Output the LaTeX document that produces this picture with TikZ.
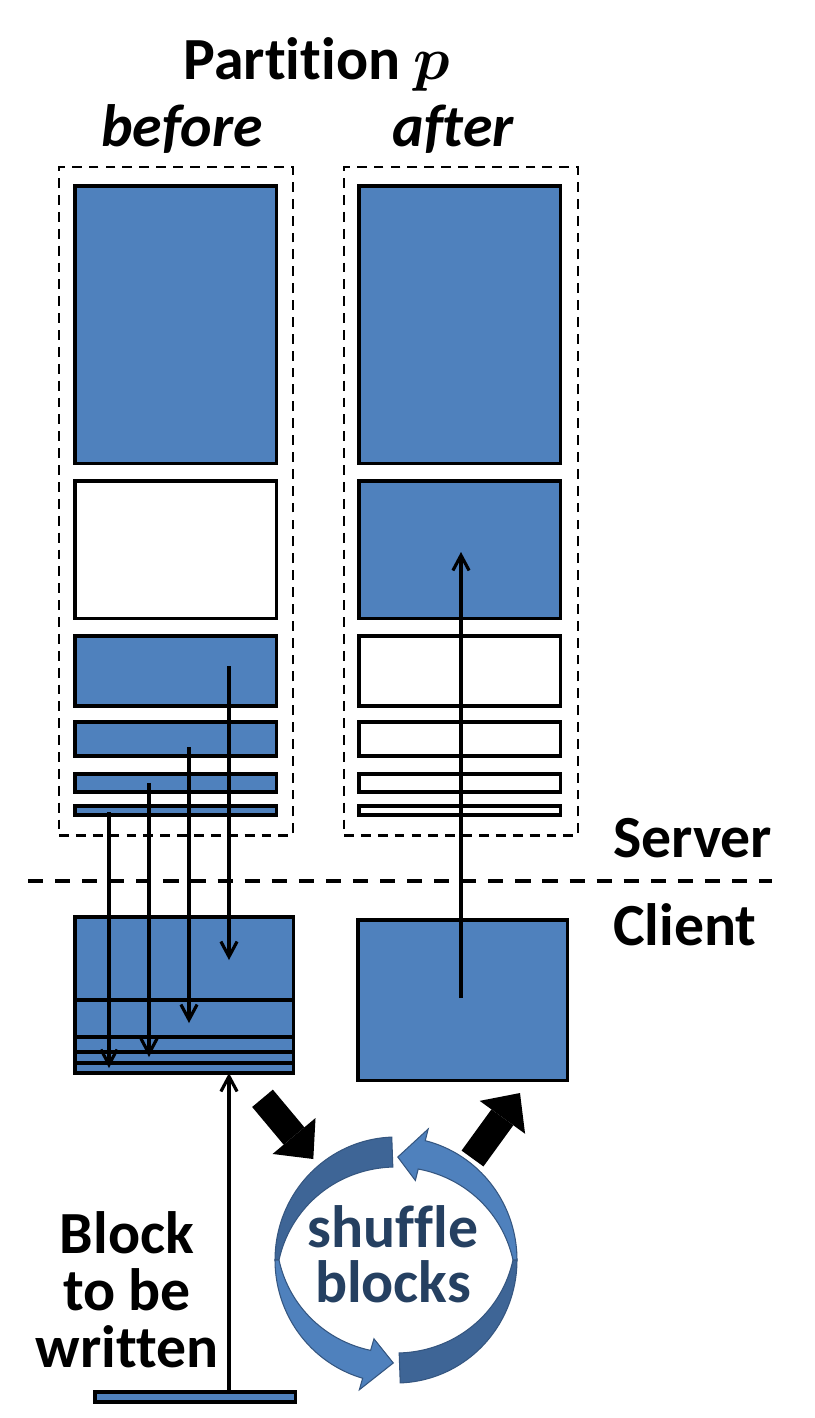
\documentclass[tikz,border=0pt]{standalone}
\usepackage{fontspec}
\setmainfont{Carlito}[Ligatures=NoCommon]
\usepackage{amsmath, amssymb}
\usetikzlibrary{arrows.meta}

\definecolor{blkblue}{RGB}{79,129,189}
\definecolor{ringdark}{RGB}{62,101,150}
\definecolor{ringlight}{RGB}{79,129,189}
\definecolor{ringtext}{RGB}{37,64,97}

\begin{document}
\begin{tikzpicture}[x=0.01cm, y=-0.01cm, >={Straight Barb[length=4.3pt,width=4.6pt]},
  every node/.style={font=\fontsize{17}{16.2}\selectfont\bfseries, inner sep=0pt, outer sep=0pt},
  full/.style={draw, line width=0.9pt, fill=blkblue, anchor=north west, minimum width=2.01cm},
  empty/.style={draw, line width=0.9pt, fill=white, anchor=north west, minimum width=2.01cm},
  part/.style={draw, dash pattern=on 2.8pt off 2pt, line width=0.7pt, anchor=north west, minimum width=2.34cm, minimum height=6.68cm},
  link/.style={->, line width=0.9pt},
  bigarrow/.style={line width=0.27cm, -{Triangle[length=0.3cm,width=0.56cm,line width=0pt]}},
  ringpart/.style={draw=ringdark!85!black, line width=0.3pt}]
  \useasboundingbox (0,0) rectangle (814,1418);

  % titles
  \node[anchor=base] (title) at (317,80) {Partition $\boldsymbol{p}$};
  \node[anchor=base, font=\fontsize{17}{16.2}\selectfont\bfseries\itshape] (before) at (182,146) {before};
  \node[anchor=base, font=\fontsize{17}{16.2}\selectfont\bfseries\itshape] (after) at (453,146) {after};

  % partition before
  \node[part] (pb) at (59,167) {};
  \node[full, minimum height=2.77cm] (b1) at (75,186) {};
  \node[empty, minimum height=1.37cm] (b2) at (75,481) {};
  \node[full, minimum height=0.70cm] (b3) at (75,636) {};
  \node[full, minimum height=0.34cm] (b4) at (75,722) {};
  \node[full, minimum height=0.18cm] (b5) at (75,774) {};
  \node[full, minimum height=0.09cm] (b6) at (75,806) {};

  % partition after
  \node[part] (pa) at (344,167) {};
  \node[full, minimum height=2.77cm] (a1) at (359,186) {};
  \node[full, minimum height=1.37cm] (a2) at (359,481) {};
  \node[empty, minimum height=0.70cm] (a3) at (359,636) {};
  \node[empty, minimum height=0.34cm] (a4) at (359,722) {};
  \node[empty, minimum height=0.18cm] (a5) at (359,774) {};
  \node[empty, minimum height=0.09cm] (a6) at (359,806) {};

  % server / client
  \draw[dash pattern=on 4.3pt off 3.4pt, line width=1.1pt] (28,881) -- (772,881);
  \node[anchor=base west] (server) at (613,857) {Server};
  \node[anchor=base west] (client) at (613,945) {Client};

  % client buffers
  \node[full, minimum width=2.18cm, minimum height=0.83cm] (c1) at (75,917) {};
  \node[full, minimum width=2.18cm, minimum height=0.37cm] (c2) at (75,1000) {};
  \node[full, minimum width=2.18cm, minimum height=0.15cm] (c3) at (75,1037) {};
  \node[full, minimum width=2.18cm, minimum height=0.11cm] (c4) at (75,1052) {};
  \node[full, minimum width=2.18cm, minimum height=0.10cm] (c5) at (75,1063) {};
  \node[full, minimum width=2.09cm, minimum height=1.60cm] (cr) at (358,920) {};
  \node[full, minimum width=2.00cm, minimum height=0.10cm] (nb) at (95,1392) {};

  \node[anchor=base, align=center] (newblk) at (127,1367) {Block\\to be\\written};

  % read path
  \coordinate (r1) at (229,666);  \coordinate (w1) at (229,960);
  \coordinate (r2) at (189,747);  \coordinate (w2) at (189,1023);
  \coordinate (r3) at (149,783);  \coordinate (w3) at (149,1057);
  \coordinate (r4) at (109,812);  \coordinate (w4) at (109,1068);
  \draw[link] (r1) -- (w1);
  \draw[link] (r2) -- (w2);
  \draw[link] (r3) -- (w3);
  \draw[link] (r4) -- (w4);

  % write path
  \coordinate (up0) at (461,998);  \coordinate (up1) at (461,552);
  \draw[link] (up0) -- (up1);
  \coordinate (nw0) at (229,1392); \coordinate (nw1) at (229,1073);
  \draw[link] (nw0) -- (nw1);

  % shuffle
  \coordinate (in0) at (262.5,1098.3); \coordinate (in1) at (313.3,1159);
  \coordinate (out0) at (472.5,1158.5); \coordinate (out1) at (520,1093);
  \draw[bigarrow] (in0) -- (in1);
  \draw[bigarrow] (out0) -- (out1);

  \filldraw[ringpart, fill=ringdark]
    plot[variable=\a, domain=268:180, samples=40] ({396+121*cos(\a)},{1260+123*sin(\a)})
    -- plot[variable=\a, domain=180:268, samples=40] ({396+(117-26*abs(sin(\a)))*cos(\a)},{1260+(119-26*abs(sin(\a)))*sin(\a)}) -- cycle;
  \filldraw[ringpart, fill=ringlight]
    plot[variable=\a, domain=180:106, samples=40] ({396+121*cos(\a)},{1260+123*sin(\a)})
    -- ({396+133*cos(106)},{1260+135*sin(106)})
    -- ({396+103*cos(91.5)},{1260+103*sin(91.5)})
    -- ({396+80*cos(106)},{1260+82*sin(106)})
    -- plot[variable=\a, domain=106:180, samples=40] ({396+(117-26*abs(sin(\a)))*cos(\a)},{1260+(119-26*abs(sin(\a)))*sin(\a)}) -- cycle;
  \filldraw[ringpart, fill=ringdark]
    plot[variable=\a, domain=88:0, samples=40] ({396+121*cos(\a)},{1260+123*sin(\a)})
    -- plot[variable=\a, domain=0:88, samples=40] ({396+(117-26*abs(sin(\a)))*cos(\a)},{1260+(119-26*abs(sin(\a)))*sin(\a)}) -- cycle;
  \filldraw[ringpart, fill=ringlight]
    plot[variable=\a, domain=0:-76, samples=40] ({396+121*cos(\a)},{1260+123*sin(\a)})
    -- ({396+133*cos(-76)},{1260+135*sin(-76)})
    -- ({396+103*cos(-89)},{1260+103*sin(-89)})
    -- ({396+80*cos(-76)},{1260+82*sin(-76)})
    -- plot[variable=\a, domain=-76:0, samples=40] ({396+(117-26*abs(sin(\a)))*cos(\a)},{1260+(119-26*abs(sin(\a)))*sin(\a)}) -- cycle;

  \node[anchor=base, align=center, text=ringtext, font=\fontsize{17}{15.6}\selectfont\bfseries] (shuf) at (393,1302) {shuffle\\blocks};
\end{tikzpicture}
\end{document}
